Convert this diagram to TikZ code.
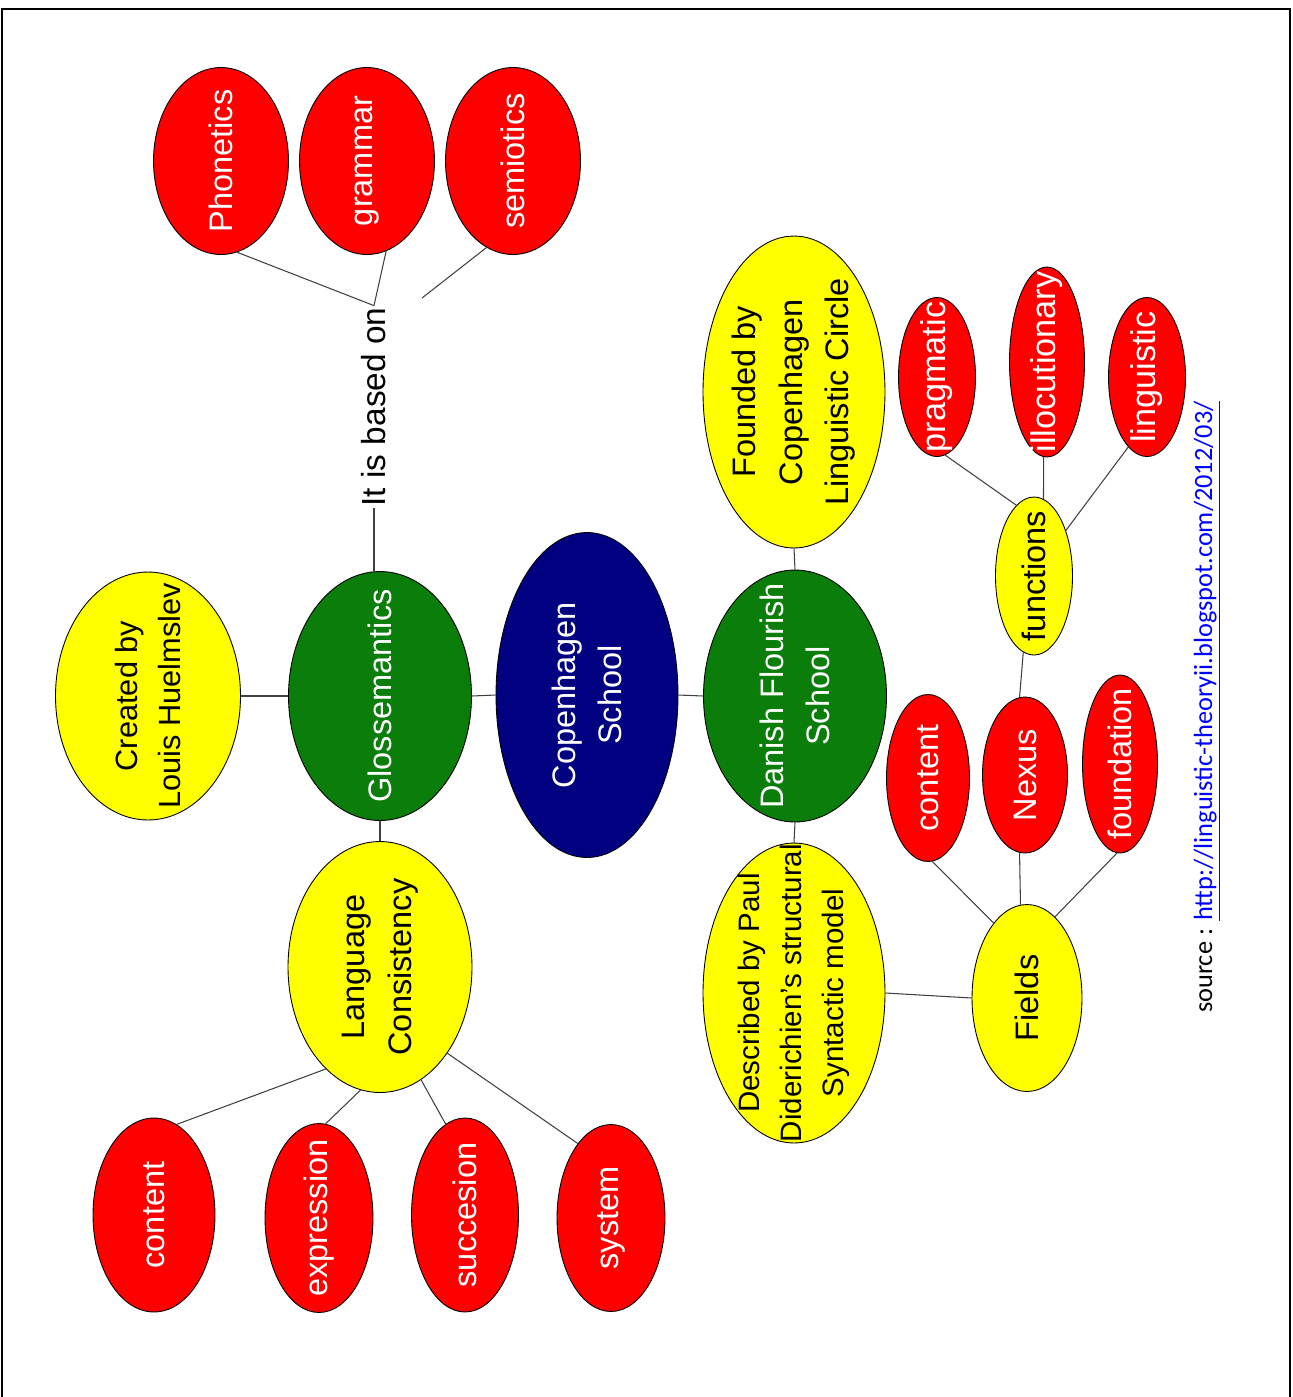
\documentclass[tikz,border=0pt]{standalone}
\usepackage{fontspec}
\setmainfont{Liberation Sans}
\newfontfamily\sourcefont{Carlito}
\usepackage{tikz}
\usetikzlibrary{shapes.geometric}
\definecolor{myred}{HTML}{FF0000}
\definecolor{myyellow}{HTML}{FFFF00}
\definecolor{mygreen}{HTML}{0A7D0A}
\definecolor{myblue}{HTML}{000080}
\definecolor{mylink}{HTML}{0000FF}
\tikzset{
	bubble/.style={
			ellipse,
			draw=black,
			line width=0.5pt,
			inner sep=-2cm,
			rotate=90,
			align=center,
			font=\fontsize{18.5}{26.5}\selectfont
		},
	ellsize/.style 2 args={
			minimum width=#2,
			minimum height=#1
		},
	rednode/.style={
			bubble,
			fill=myred,
			text=white
		},
	yellownode/.style={
			bubble,
			fill=myyellow,
			text=black
		},
	greennode/.style={
			bubble,
			fill=mygreen,
			text=white
		},
	bluenode/.style={
			bubble,
			fill=myblue,
			text=white
		},
	link/.style={
			line width=0.6pt,
			draw=black!75
		}
}

\begin{document}
\begin{tikzpicture}[x=0.02cm, y=-0.02cm]
\useasboundingbox (0,0) rectangle (1293,1397);
\draw[line width=1.1pt] (2,1397) -- (2,9) -- (1290,9) -- (1290,1397);

    \node[bluenode, ellsize={3.64cm}{6.5cm}] (cs) at (587,695) {Copenhagen\\School};
    \node[greennode, ellsize={3.66cm}{4.98cm}] (gl) at (380,696) {Glossemantics};
    \node[greennode, ellsize={3.66cm}{5.04cm}] (dfs) at (795,696) {Danish Flourish\\School};

    \node[yellownode, ellsize={3.7cm}{4.96cm}, font=\fontsize{17.5}{25}\selectfont] (created) at (148,696) {Created by\\Louis Huelmslev};
    \node[yellownode, ellsize={3.68cm}{5.02cm}] (lc) at (380,967) {Language\\Consistency};
    \node[yellownode, ellsize={3.64cm}{6.24cm}] (founded) at (794,392) {Founded by\\Copenhagen\\Linguistic Circle};
    \node[yellownode, ellsize={3.64cm}{6.0cm}, font=\fontsize{16.8}{24}\selectfont] (described) at (794,993) {Described by Paul\\Diderichien's structural\\Syntactic model};
    \node[yellownode, ellsize={2.2cm}{3.74cm}] (fields) at (1027,998) {Fields};
    \node[yellownode, ellsize={1.54cm}{3.16cm}] (functions) at (1034,576) {functions};

    \node[rotate=90, inner sep=1pt, font=\fontsize{19}{23}\selectfont] (basedon) at (374,407) {It is based on};
    \coordinate (semiend) at (422,298);

    \node[rednode, ellsize={2.7cm}{3.74cm}] (phon) at (221,161) {Phonetics};
    \node[rednode, ellsize={2.7cm}{3.74cm}] (gram) at (367,161) {grammar};
    \node[rednode, ellsize={2.7cm}{3.74cm}] (semi) at (513,161) {semiotics};

    \node[rednode, ellsize={2.44cm}{3.88cm}] (lcontent) at (154,1215) {content};
    \node[rednode, ellsize={2.16cm}{3.78cm}] (expr) at (319,1218) {expression};
    \node[rednode, ellsize={2.14cm}{3.88cm}] (succ) at (465,1215) {succesion};
    \node[rednode, ellsize={2.16cm}{3.74cm}] (sys) at (611,1218) {system};

    \node[rednode, ellsize={1.66cm}{3.34cm}] (fcontent) at (928,778) {content};
    \node[rednode, ellsize={1.7cm}{3.12cm}] (nexus) at (1025,775) {Nexus};
    \node[rednode, ellsize={1.5cm}{3.56cm}] (foundation) at (1120,764) {foundation};

    \node[rednode, ellsize={1.54cm}{3.18cm}, font=\fontsize{19.5}{24}\selectfont] (prag) at (937,377) {pragmatic};
    \node[rednode, ellsize={1.5cm}{3.8cm}, font=\fontsize{19.5}{24}\selectfont] (illoc) at (1047,362) {illocutionary};
    \node[rednode, ellsize={1.54cm}{3.18cm}, font=\fontsize{19.5}{24}\selectfont] (ling) at (1147,377) {linguistic};

    \node[rotate=90, inner sep=0pt, font=\sourcefont\fontsize{15}{17}\selectfont] (src) at (1207,707) {source : \textcolor{mylink}{\underline{http://linguistic-theoryii.blogspot.com/2012/03/}}};

    % nodes are turned by 90 degrees, so an anchor angle is the page angle minus 90
    \draw[link] (created.south) -- (gl.north);
    \draw[link] (gl.south) -- (cs.north);
    \draw[link] (cs.south) -- (dfs.north);
    \draw[link] (basedon.west) -- (basedon.west |- gl.east);
    \draw[link] (phon.190) -- (basedon.east);
    \draw[link] (gram.192) -- (basedon.east);
    \draw[link] (semi.163) -- (semiend);

    \draw[link] (gl.west) -- (lc.east);
    \draw[link] (lc.152) -- (lcontent.-14);
    \draw[link] (lc.171) -- (expr.-4);
    \draw[link] (lc.200) -- (succ.12);
    \draw[link] (lc.218) -- (sys.24);

    \draw[link] (dfs.east) -- (founded.west);
    \draw[link] (dfs.west) -- (described.east);
    \draw[link] (described.south) -- (fields.north);
    \draw[link] (fields.24) -- (fcontent.183);
    \draw[link] (fields.4) -- (nexus.176);
    \draw[link] (fields.-19) -- (foundation.178);
    \draw[link] (nexus.4) -- (functions.172);
    \draw[link] (functions.14) -- (prag.186);
    \draw[link] (functions.-7) -- (illoc.178);
    \draw[link] (functions.-35) -- (ling.165);

\end{tikzpicture}
\end{document}
